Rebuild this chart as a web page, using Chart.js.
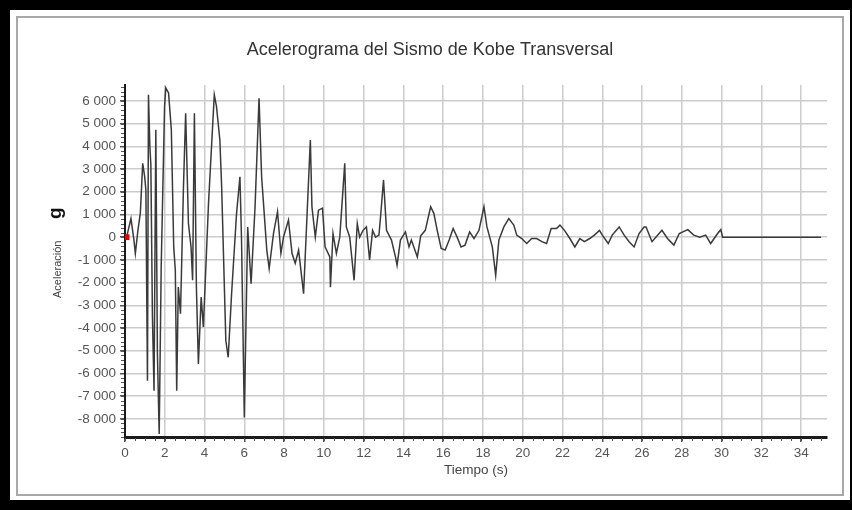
<!DOCTYPE html>
<html>
<head>
<meta charset="utf-8">
<script src="https://cdn.jsdelivr.net/npm/chart.js@4.4.1/dist/chart.umd.min.js"></script>
<style>
  html, body { margin: 0; padding: 0; background: #000; }
  #wrap { width: 852px; height: 510px; }
</style>
</head>
<body>
<div id="wrap"><canvas id="c" width="852" height="510"></canvas></div>
<script>
// Acelerograma - tiempo (s) y aceleracion
const tiempos = [
  0.08, 0.3, 0.45, 0.52, 0.65, 0.77, 0.89, 0.99, 1.05, 1.13, 1.18, 1.25, 1.3, 1.38, 1.46,
  1.55, 1.63, 1.72, 1.82, 1.99, 2.05, 2.19, 2.33, 2.45, 2.53, 2.6, 2.68, 2.79, 2.94, 3.05,
  3.19, 3.32, 3.4, 3.49, 3.59, 3.69, 3.83, 3.94, 4.2, 4.49, 4.6, 4.77, 4.86, 5.07, 5.19,
  5.36, 5.61, 5.78, 5.86, 6.0, 6.17, 6.34, 6.54, 6.74, 6.87, 7.13, 7.25, 7.47, 7.67, 7.84,
  7.97, 8.22, 8.4, 8.56, 8.73, 8.98, 9.15, 9.32, 9.4, 9.57, 9.73, 9.93, 10.06, 10.3, 10.33,
  10.46, 10.63, 10.8, 11.05, 11.13, 11.3, 11.52, 11.68, 11.8, 11.97, 12.14, 12.3, 12.45, 12.6, 12.77,
  12.85, 13.0, 13.15, 13.4, 13.6, 13.68, 13.85, 14.1, 14.28, 14.4, 14.7, 14.87, 15.1, 15.37, 15.53,
  15.7, 15.9, 16.1, 16.3, 16.5, 16.7, 16.9, 17.1, 17.33, 17.55, 17.8, 18.05, 18.2, 18.47, 18.64,
  18.8, 19.05, 19.3, 19.55, 19.7, 19.95, 20.2, 20.45, 20.7, 20.96, 21.2, 21.43, 21.7, 21.87, 22.1,
  22.37, 22.62, 22.87, 23.1, 23.37, 23.6, 23.86, 24.0, 24.3, 24.5, 24.85, 25.1, 25.35, 25.6, 25.85,
  26.1, 26.2, 26.5, 27.0, 27.28, 27.6, 27.87, 28.3, 28.6, 28.9, 29.2, 29.45, 29.8, 29.96, 30.05,
  35.0
];
const aceleraciones = [
  0, 820, -130, -720, 300, 1050, 3250, 2660, 2080, -6320, 6270, 3990, 3200, -3520, -6760,
  4730, -5140, -8670, -1310, 5760, 6570, 6350, 4730, -430, -1460, -6760, -2200, -3370, 2220, 5460,
  600, -430, -1900, 5460, -2200, -5580, -2640, -3960, 1490, 6270, 5760, 4280, 2220, -4550, -5290,
  -2490, 1050, 2660, -130, -7940, 450, -2050, 1340, 6120, 2660, -570, -1380, 180, 1120, -710,
  0, 750, -720, -1150, -570, -2490, 900, 4280, 1340, 0, 1190, 1280, -430, -870, -2200,
  160, -720, 0, 3250, 450, 0, -1900, 600, 0, 300, 450, -1000, 300, 0, 90,
  900, 2520, 300, -130, -870, -1240, -130, 230, -430, -130, -870, 60, 300, 1340, 1050,
  300, -500, -570, -130, 380, 0, -430, -350, 230, -60, 300, 1340, 450, -430, -1680,
  -130, 450, 820, 530, 90, -60, -280, -60, -60, -200, -280, 380, 380, 530, 300,
  -60, -430, -60, -200, -60, 90, 300, 90, -280, 90, 450, 90, -200, -430, 160,
  450, 450, -200, 300, -60, -350, 160, 330, 90, 0, 90, -280, 160, 330, 0,
  0
];
const xTicks = [0, 2, 4, 6, 8, 10, 12, 14, 16, 18, 20, 22, 24, 26, 28, 30, 32, 34];
const yTicks = [-8000, -7000, -6000, -5000, -4000, -3000, -2000, -1000, 0, 1000, 2000, 3000, 4000, 5000, 6000];

function miles(v) {
  const s = Math.abs(v).toString().replace(/\B(?=(\d{3})+(?!\d))/g, ' ');
  return (v < 0 ? '-' : '') + s;
}

// marco negro y borde gris alrededor del grafico
const marco = {
  id: 'marco',
  beforeDraw(chart) {
    const ctx = chart.ctx;
    ctx.save();
    ctx.fillStyle = '#000';
    ctx.fillRect(0, 0, 852, 510);
    ctx.fillStyle = '#fff';
    ctx.fillRect(10, 10, 840, 490);
    ctx.strokeStyle = '#a8a8a8';
    ctx.lineWidth = 2;
    ctx.strokeRect(17, 17, 826, 478);
    ctx.restore();
  }
};

// marcas menores en los ejes y titulo del eje Y
const extras = {
  id: 'extras',
  afterDraw(chart) {
    const ctx = chart.ctx;
    const xs = chart.scales.x, ys = chart.scales.y;
    ctx.save();
    ctx.strokeStyle = '#555';
    ctx.lineWidth = 1;
    ctx.beginPath();
    for (let v = -8800; v <= 6600; v += 200) {
      const py = Math.round(ys.getPixelForValue(v)) + 0.5;
      ctx.moveTo(xs.left - 4, py);
      ctx.lineTo(xs.left - 1, py);
    }
    for (let t = 0; t <= 35; t += 0.5) {
      const px = Math.round(xs.getPixelForValue(t)) + 0.5;
      ctx.moveTo(px, ys.bottom + 1);
      ctx.lineTo(px, ys.bottom + 4);
    }
    ctx.stroke();

    ctx.translate(61, 298);
    ctx.rotate(-Math.PI / 2);
    ctx.textBaseline = 'alphabetic';
    ctx.textAlign = 'left';
    ctx.fillStyle = '#444';
    ctx.font = '11px "Liberation Sans", Arial, sans-serif';
    ctx.fillText('Aceleración', 0, 0);
    ctx.fillStyle = '#111';
    ctx.font = 'bold 19px "Liberation Sans", Arial, sans-serif';
    ctx.fillText('g', 79, 0);
    ctx.restore();
  }
};

const puntos = tiempos.map((t, i) => ({ x: t, y: aceleraciones[i] }));

new Chart(document.getElementById('c'), {
  type: 'line',
  data: {
    datasets: [{
      data: puntos,
      borderColor: '#3a3a3a',
      borderWidth: 1.5,
      tension: 0,
      pointRadius: ctx => ctx.dataIndex === 0 ? 3 : 0,
      pointStyle: 'rect',
      pointBackgroundColor: '#e00000',
      pointBorderColor: '#e00000'
    }]
  },
  options: {
    responsive: false,
    animation: false,
    layout: { padding: { left: 33, right: 25, top: 0, bottom: 0 } },
    plugins: {
      legend: { display: false },
      tooltip: { enabled: false },
      title: {
        display: true,
        text: 'Acelerograma del Sismo de Kobe Transversal',
        color: '#333',
        font: { family: '"Liberation Sans", Arial, sans-serif', size: 18, weight: 'normal' },
        padding: { top: 39, bottom: 24.4 }
      }
    },
    scales: {
      x: {
        type: 'linear',
        min: 0,
        max: 35.3,
        afterFit: s => { s.height = 73; },
        afterBuildTicks: s => { s.ticks = xTicks.map(v => ({ value: v })); },
        ticks: {
          color: '#555',
          font: { family: '"Liberation Sans", Arial, sans-serif', size: 13.5 },
          padding: 3,
          maxRotation: 0
        },
        grid: { color: '#cccccc', lineWidth: 1.5, tickLength: 5, tickColor: '#555' },
        border: { color: '#1a1a1a', width: 3 },
        title: {
          display: true,
          text: 'Tiempo (s)',
          color: '#444',
          font: { family: '"Liberation Sans", Arial, sans-serif', size: 13.5 },
          padding: { top: 32, bottom: 32 }
        }
      },
      y: {
        min: -8800,
        max: 6700,
        afterFit: s => { s.width = 92; },
        afterBuildTicks: s => { s.ticks = yTicks.map(v => ({ value: v })); },
        ticks: {
          color: '#555',
          font: { family: '"Liberation Sans", Arial, sans-serif', size: 13.5 },
          padding: 4,
          callback: v => miles(v)
        },
        grid: { color: '#cccccc', lineWidth: 1.5, tickLength: 5, tickColor: '#555' },
        border: { color: '#1a1a1a', width: 2 }
      }
    }
  },
  plugins: [marco, extras]
});
</script>
</body>
</html>
